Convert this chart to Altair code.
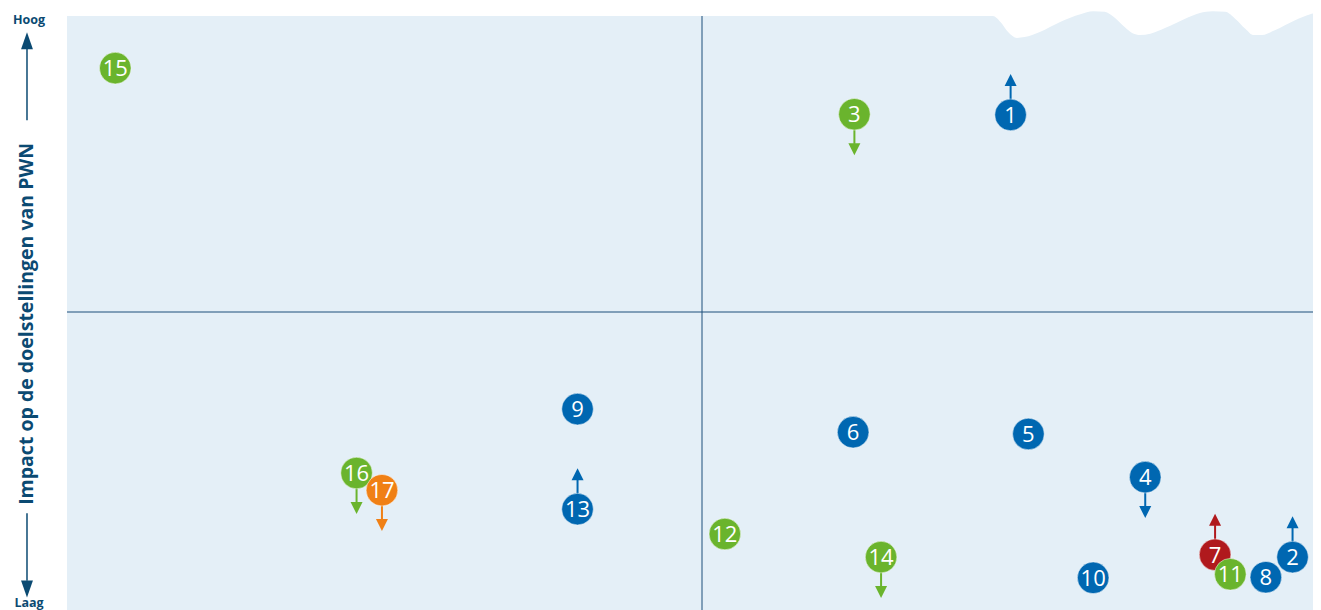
import altair as alt
import pandas as pd

# ---- data (drawing order) ----
ids    = [15, 3, 1, 9, 6, 5, 4, 16, 17, 13, 12, 14, 10, 7, 11, 8, 2]
xs     = [3.8, 62.0, 74.3, 40.2, 61.9, 75.7, 84.9, 22.8, 24.8, 40.2, 51.8, 64.1, 80.8, 90.4, 91.6, 94.4, 96.5]
ys     = [91.2, 83.4, 83.3, 33.6, 29.7, 29.4, 22.1, 22.8, 19.9, 16.7, 12.5, 8.6, 5.1, 9.0, 5.7, 5.2, 8.6]
groups = ["groen", "groen", "blauw", "blauw", "blauw", "blauw", "blauw", "groen", "oranje", "blauw",
          "groen", "groen", "blauw", "rood", "groen", "blauw", "blauw"]
trend  = [0, -1, 1, 0, 0, 0, -1, -1, -1, 1, 0, -1, 0, 1, 0, 0, 1]

group_names  = ["blauw", "groen", "oranje", "rood"]
group_colors = ["#0067b1", "#6ab42d", "#f08015", "#b0191d"]

# decorative wavy top edge of the background panel
wave_x = [0, 72.9, 73.5, 74.1, 74.8, 75.4, 76.6, 78.2, 79.8, 80.8, 81.7, 82.5, 83.3, 83.9, 84.5, 85.3,
          86.5, 88.0, 89.2, 90.2, 91.2, 92.0, 92.8, 93.4, 94.1, 95.1, 96.7, 97.9, 98.7, 100]
wave_y = [100, 100, 99.0, 97.3, 96.3, 96.45, 97.3, 99.0, 100.3, 100.8, 100.7, 99.7, 98.1, 97.1, 96.8, 97.0,
          98.0, 99.5, 100.5, 100.8, 100.7, 99.5, 97.8, 96.8, 96.8, 97.6, 99.3, 100.3, 100.7, 100.9]

# axis annotation (left of the panel)
axis_title = "Impact op de doelstellingen van PWN"
axis_x = -3.15
hoog_y, laag_y = 99.3, 0.85
arrow_up_y, arrow_up_y2 = 82.4, 94.5
arrow_dn_y, arrow_dn_y2 = 16.0, 4.6
tri_up_y, tri_dn_y = 95.8, 3.2

XD = [0, 98.11]
YD = [0, 100]

df = pd.DataFrame({"id": ids, "x": xs, "y": ys, "groep": groups, "trend": trend})
df["label"] = df["id"].astype(str)
arrows = df[df["trend"] != 0].copy()
arrows["ya"] = arrows["y"] + arrows["trend"] * 5.0
arrows["yt"] = arrows["y"] + arrows["trend"] * 5.9
arrows["shape"] = arrows["trend"].map({1: "M0,-1L1,1L-1,1Z", -1: "M0,1L1,-1L-1,-1Z"})

bg = pd.DataFrame({"x": wave_x, "y": wave_y})
bg["base"] = -2

xs_ = alt.Scale(domain=XD, nice=False, zero=False)
ys_ = alt.Scale(domain=YD, nice=False, zero=False)
X = lambda f: alt.X(f, type="quantitative", scale=xs_, axis=None)
Y = lambda f: alt.Y(f, type="quantitative", scale=ys_, axis=None)
col = alt.Color("groep:N", scale=alt.Scale(domain=group_names, range=group_colors), legend=None)

panel = alt.Chart(bg).mark_area(color="#e4eff7", interpolate="monotone").encode(
    x=X("x"), y=Y("y"), y2="base")

quad = pd.DataFrame({"x": [50], "y": [50], "x0": [0], "x1": [XD[1] + 2], "y0": [-2], "y1": [100]})
vline = alt.Chart(quad).mark_rule(color="#1d4e7a", strokeWidth=1).encode(x=X("x"), y=Y("y0"), y2="y1")
hline = alt.Chart(quad).mark_rule(color="#1d4e7a", strokeWidth=1).encode(y=Y("y"), x=X("x0"), x2="x1")

stems = alt.Chart(arrows).mark_rule(strokeWidth=2).encode(x=X("x"), y=Y("y"), y2="ya", color=col)
heads = alt.Chart(arrows).mark_point(filled=True, opacity=1, size=144).encode(
    x=X("x"), y=Y("yt"), color=col, shape=alt.Shape("shape:N", scale=None))

dots = alt.Chart(df).mark_circle(size=1000, opacity=1, stroke="white", strokeWidth=0.8,
                                 strokeOpacity=0.6).encode(x=X("x"), y=Y("y"), color=col)
labels = alt.Chart(df).mark_text(color="white", font="Open Sans", fontSize=22, fontWeight=500,
                                 baseline="middle", dy=1).encode(x=X("x"), y=Y("y"), text="label:N")

ann = pd.DataFrame({"x": [axis_x], "t": [axis_title], "ymid": [48.0],
                    "hy": [hoog_y], "ly": [laag_y],
                    "au": [arrow_up_y], "au2": [arrow_up_y2], "ad": [arrow_dn_y], "ad2": [arrow_dn_y2],
                    "tu": [tri_up_y], "td": [tri_dn_y]})
navy = "#0b4a72"
title = alt.Chart(ann).mark_text(angle=270, font="Open Sans", fontWeight="bold", fontSize=19.5,
                                 color=navy, baseline="middle", align="center").encode(
    x=X("x"), y=Y("ymid"), text="t:N")
hoog = alt.Chart(ann).mark_text(text="Hoog", font="Open Sans", fontWeight="bold", fontSize=12.5,
                                color=navy, baseline="middle", align="center", dx=2).encode(x=X("x"), y=Y("hy"))
laag = alt.Chart(ann).mark_text(text="Laag", font="Open Sans", fontWeight="bold", fontSize=12.5,
                                color=navy, baseline="middle", align="center", dx=2).encode(x=X("x"), y=Y("ly"))
up_line = alt.Chart(ann).mark_rule(color=navy, strokeWidth=1.5).encode(x=X("x"), y=Y("au"), y2="au2")
dn_line = alt.Chart(ann).mark_rule(color=navy, strokeWidth=1.5).encode(x=X("x"), y=Y("ad"), y2="ad2")
up_tri = alt.Chart(ann).mark_point(filled=True, opacity=1, size=289, color=navy,
                                   shape="M0,-1L0.7,1L-0.7,1Z").encode(x=X("x"), y=Y("tu"))
dn_tri = alt.Chart(ann).mark_point(filled=True, opacity=1, size=289, color=navy,
                                   shape="M0,1L0.7,-1L-0.7,-1Z").encode(x=X("x"), y=Y("td"))

chart = alt.layer(panel, vline, hline, stems, heads, dots, labels,
                  title, hoog, laag, up_line, dn_line, up_tri, dn_tri).properties(
    width=1246, height=592,
    autosize=alt.AutoSizeParams(type="none"),
    padding={"left": 59, "top": 8, "right": 0, "bottom": 2},
).configure_view(stroke=None, fill=None)

chart.save("out.html", embed_options={"renderer": "svg", "actions": False})
